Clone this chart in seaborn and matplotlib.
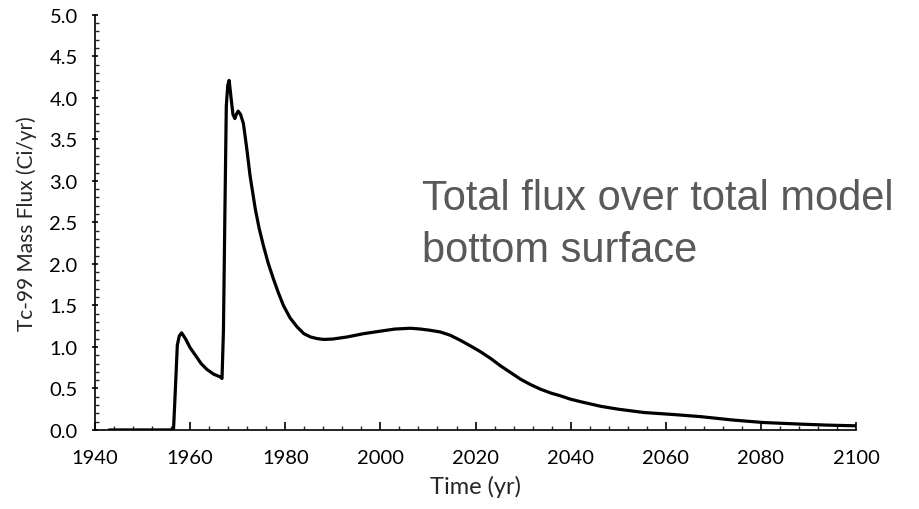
import matplotlib
matplotlib.use("Agg")
import matplotlib.pyplot as plt
import seaborn as sns
import pandas as pd
from matplotlib.ticker import MultipleLocator

years = [1943, 1956.5, 1956.9, 1957.3, 1957.7, 1958.2, 1959.0, 1960.0, 1961.1, 1962.3,
         1963.5, 1965.0, 1966.3, 1966.7, 1967.0, 1967.3, 1967.6, 1967.9, 1968.2, 1968.6,
         1969.0, 1969.4, 1969.7, 1970.1, 1970.6, 1971.2, 1971.9, 1972.6, 1973.7, 1974.5,
         1975.4, 1976.4, 1977.5, 1978.5, 1979.6, 1981.0, 1982.5, 1983.9, 1985.3, 1986.7,
         1988.1, 1990.0, 1993.0, 1996.5, 2000.0, 2003.0, 2006.3, 2008.5, 2010.5, 2012.6,
         2014.7, 2016.8, 2019.0, 2021.1, 2023.2, 2025.3, 2027.4, 2029.5, 2031.6, 2033.7,
         2035.8, 2037.9, 2040.0, 2042.1, 2046.3, 2050.0, 2055.4, 2061.8, 2067.4, 2074.0,
         2080.4, 2088.4, 2094.0, 2100.0]
flux = [0.0, 0.0, 0.5, 1.02, 1.13, 1.17, 1.10, 0.99, 0.90, 0.80,
        0.73, 0.67, 0.64, 0.62, 1.2, 2.6, 3.9, 4.15, 4.21, 4.0,
        3.80, 3.75, 3.80, 3.84, 3.80, 3.69, 3.39, 3.06, 2.66, 2.43,
        2.22, 2.01, 1.82, 1.66, 1.50, 1.35, 1.24, 1.16, 1.12, 1.10,
        1.09, 1.095, 1.12, 1.16, 1.19, 1.215, 1.225, 1.215, 1.20, 1.18,
        1.14, 1.08, 1.01, 0.94, 0.86, 0.77, 0.69, 0.61, 0.545, 0.49,
        0.445, 0.41, 0.37, 0.34, 0.285, 0.25, 0.21, 0.185, 0.16, 0.12,
        0.09, 0.07, 0.058, 0.05]

x_label = "Time (yr)"
y_label = "Tc-99 Mass Flux (Ci/yr)"
note_lines = ["Total flux over total model", "bottom surface"]

df = pd.DataFrame({"year": years, "flux": flux})

sns.set_style("ticks")
plt.rcParams["font.family"] = ["Lato", "DejaVu Sans"]

fig = plt.figure(figsize=(9.19, 5.10), dpi=100)
ax = fig.add_axes([0.1034, 0.155, 0.9315 - 0.1034, 0.969 - 0.155])

sns.lineplot(data=df, x="year", y="flux", color="black", linewidth=2.3, ax=ax)

ax.set_xlim(1940, 2100)
ax.set_ylim(0, 5.0)
ax.xaxis.set_major_locator(MultipleLocator(20))
ax.xaxis.set_minor_locator(MultipleLocator(4))
ax.yaxis.set_major_locator(MultipleLocator(0.5))
ax.yaxis.set_minor_locator(MultipleLocator(0.1))
ax.yaxis.set_major_formatter(matplotlib.ticker.FormatStrFormatter("%.1f"))

for s in ["top", "right"]:
    ax.spines[s].set_visible(False)
for s in ["left", "bottom"]:
    ax.spines[s].set_linewidth(1.2)
    ax.spines[s].set_color("black")

ax.tick_params(axis="x", which="major", direction="in", length=6, width=1.2, pad=14,
               labelsize=14.5, colors="black")
ax.tick_params(axis="x", which="minor", direction="in", length=3, width=1.0)
ax.tick_params(axis="y", which="major", direction="inout", length=5, width=1.2, pad=10,
               labelsize=14.5, colors="black")
ax.tick_params(axis="y", which="minor", direction="in", length=3, width=1.0)

ax.set_xlabel(x_label, fontsize=17, labelpad=6)
ax.set_ylabel(y_label, fontsize=15, labelpad=9)

fig.text(422 / 919, 1 - 210 / 510, note_lines[0], fontsize=30, color="#595959",
         family=["Liberation Sans", "DejaVu Sans"], ha="left", va="baseline")
fig.text(422 / 919, 1 - 262 / 510, note_lines[1], fontsize=30, color="#595959",
         family=["Liberation Sans", "DejaVu Sans"], ha="left", va="baseline")

fig.savefig("out.png", dpi=100)
